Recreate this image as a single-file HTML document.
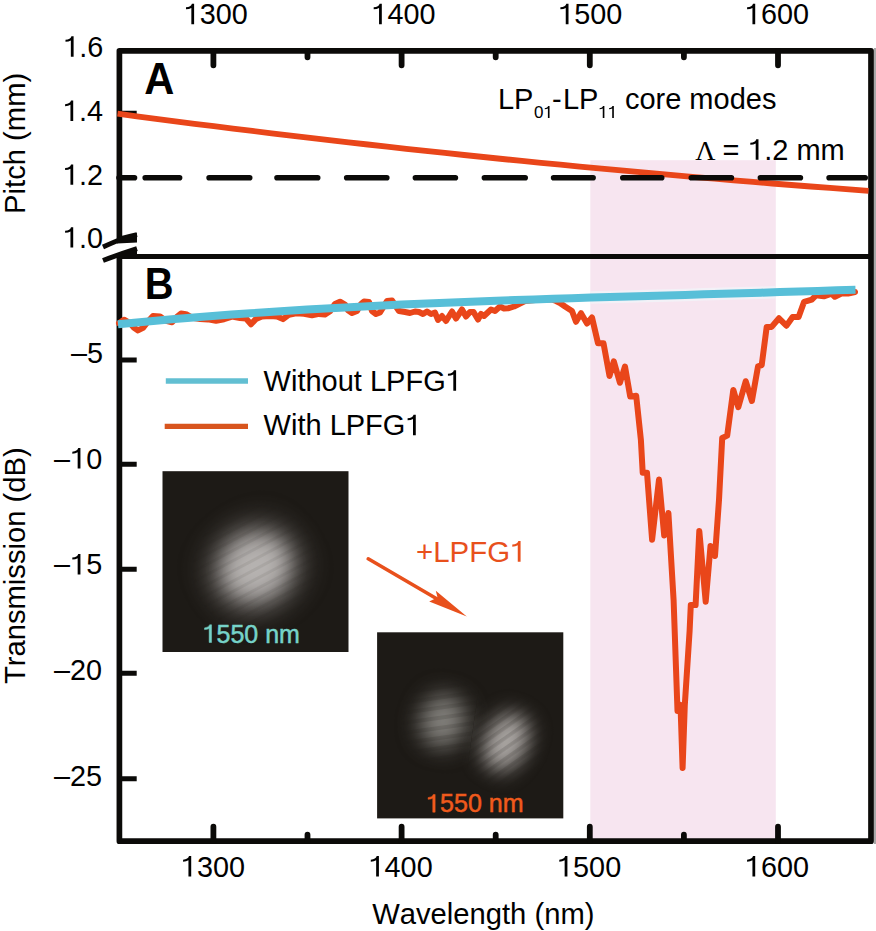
<!DOCTYPE html>
<html><head><meta charset="utf-8"><style>
html,body{margin:0;padding:0;background:#fff;width:876px;height:931px;overflow:hidden}
svg{display:block}
text{font-family:"Liberation Sans",sans-serif;fill:#000;font-kerning:none}
</style></head><body>
<svg width="876" height="931" viewBox="0 0 876 931">
<defs>
<filter id="bl2" x="-1" y="-1" width="3" height="3"><feGaussianBlur stdDeviation="2"/></filter>
<filter id="bl3" x="-1" y="-1" width="3" height="3"><feGaussianBlur stdDeviation="3"/></filter>
<filter id="bl4" x="-1" y="-1" width="3" height="3"><feGaussianBlur stdDeviation="4"/></filter>
<filter id="bl5" x="-1" y="-1" width="3" height="3"><feGaussianBlur stdDeviation="5"/></filter>
<filter id="bl6" x="-1" y="-1" width="3" height="3"><feGaussianBlur stdDeviation="6"/></filter>
<filter id="bl7" x="-1" y="-1" width="3" height="3"><feGaussianBlur stdDeviation="7"/></filter>
<filter id="bl8" x="-1" y="-1" width="3" height="3"><feGaussianBlur stdDeviation="8"/></filter>
<filter id="bl9" x="-1" y="-1" width="3" height="3"><feGaussianBlur stdDeviation="9"/></filter>
<filter id="bl10" x="-1" y="-1" width="3" height="3"><feGaussianBlur stdDeviation="10"/></filter>
<filter id="bl11" x="-1" y="-1" width="3" height="3"><feGaussianBlur stdDeviation="11"/></filter>
<filter id="bl12" x="-1" y="-1" width="3" height="3"><feGaussianBlur stdDeviation="12"/></filter>
<filter id="bl13" x="-1" y="-1" width="3" height="3"><feGaussianBlur stdDeviation="13"/></filter>
<filter id="bl14" x="-1" y="-1" width="3" height="3"><feGaussianBlur stdDeviation="14"/></filter>
<filter id="bl15" x="-1" y="-1" width="3" height="3"><feGaussianBlur stdDeviation="15"/></filter>
<filter id="bl16" x="-1" y="-1" width="3" height="3"><feGaussianBlur stdDeviation="16"/></filter>
<filter id="bl17" x="-1" y="-1" width="3" height="3"><feGaussianBlur stdDeviation="17"/></filter>
<filter id="bl18" x="-1" y="-1" width="3" height="3"><feGaussianBlur stdDeviation="18"/></filter>
<filter id="bl19" x="-1" y="-1" width="3" height="3"><feGaussianBlur stdDeviation="19"/></filter>
<filter id="bl20" x="-1" y="-1" width="3" height="3"><feGaussianBlur stdDeviation="20"/></filter>
<clipPath id="cp"><rect x="590.3" y="160.2" width="185.5" height="680"/></clipPath>
<clipPath id="c1"><rect x="162.5" y="471.2" width="186" height="180.8"/></clipPath>
<clipPath id="c2"><rect x="377.1" y="632.3" width="186.2" height="186.1"/></clipPath>
<pattern id="st1" width="9" height="9" patternUnits="userSpaceOnUse" patternTransform="rotate(-28)"><rect width="9" height="9" fill="#fff"/><rect width="9" height="3" fill="#ececec"/></pattern>
<pattern id="st2" width="8.5" height="8.5" patternUnits="userSpaceOnUse" patternTransform="rotate(-35)"><rect width="9" height="9" fill="#fff"/><rect width="9" height="3.5" fill="#dadada"/></pattern>
<pattern id="st3" width="10" height="10" patternUnits="userSpaceOnUse" patternTransform="rotate(-8)"><rect width="10" height="10" fill="#fff"/><rect width="10" height="4" fill="#dcdcdc"/></pattern>
<mask id="m1" maskUnits="userSpaceOnUse" x="0" y="0" width="876" height="931"><rect x="162.5" y="471.2" width="186" height="180.8" fill="url(#st1)"/></mask>
<mask id="m2" maskUnits="userSpaceOnUse" x="0" y="0" width="876" height="931"><polygon points="377,632 487,632 460,818 377,818" fill="url(#st3)"/><polygon points="487,632 564,632 564,818 460,818" fill="url(#st2)"/></mask>
</defs>
<!-- pink band -->
<rect x="590.3" y="160.2" width="185.5" height="680" fill="#f7e5f0"/>
<!-- frame -->
<g fill="none" stroke="#0b0a08">
<path d="M119.4,239.5 L119.4,50.85 L871,50.85 L871,841.15 L119.4,841.15 L119.4,254" stroke-width="5.7" stroke-linejoin="round"/>
<path d="M121,256.5 L871,256.5" stroke-width="5"/>
<path d="M213.4,51 L213.4,65.3 M213.4,841 L213.4,826.7 M307.5,51 L307.5,57.3 M307.5,841 L307.5,834.7 M401.6,51 L401.6,65.3 M401.6,841 L401.6,826.7 M495.7,51 L495.7,57.3 M495.7,841 L495.7,834.7 M589.8,51 L589.8,65.3 M589.8,841 L589.8,826.7 M683.9,51 L683.9,57.3 M683.9,841 L683.9,834.7 M778.0,51 L778.0,65.3 M778.0,841 L778.0,826.7 " stroke-width="5.8" stroke-linecap="round"/>
<path d="M119,360.1 L136.7,360.1 M119,464.2 L136.7,464.2 M119,569.2 L136.7,569.2 M119,673.3 L136.7,673.3 M119,778.7 L136.7,778.7 M119,113.3 L136.7,113.3 " stroke-width="5" stroke-linecap="butt"/>
<path d="M119,177.8 L134.5,177.8" stroke-width="5.6" stroke-linecap="round"/>
</g>
<rect x="874" y="48" width="2" height="796" fill="#a8a8a8"/>
<!-- break marks -->
<path d="M103,247 Q112,243 118,240.5 L122,238.5 Q130,236 137,234.6" fill="none" stroke="#0b0a08" stroke-width="5" stroke-linecap="butt"/>
<path d="M117,240 L137,233 L137,242.6 L117,243.6 Z" fill="#0b0a08"/>
<path d="M103,260.5 Q120,254 137,248.6" fill="none" stroke="#0b0a08" stroke-width="5" stroke-linecap="butt"/>
<path d="M121,254 L137,248.5 L137,259 L121,259 Z" fill="#0b0a08"/>
<!-- panel A orange -->
<path d="M117.5,113.7 L136.8,116.3 L156.0,118.8 L175.3,121.3 L194.5,123.8 L213.8,126.2 L233.0,128.6 L252.3,130.9 L271.6,133.3 L290.8,135.6 L310.1,137.9 L329.3,140.1 L348.6,142.3 L367.8,144.5 L387.1,146.7 L406.3,148.8 L425.6,150.9 L444.9,152.9 L464.1,155.0 L483.4,157.0 L502.6,159.0 L521.9,160.9 L541.1,162.8 L560.4,164.7 L579.7,166.6 L598.9,168.4 L618.2,170.2 L637.4,171.9 L656.7,173.7 L675.9,175.4 L695.2,177.1 L714.4,178.7 L733.7,180.3 L753.0,181.9 L772.2,183.5 L791.5,185.0 L810.7,186.5 L830.0,187.9 L849.2,189.4 L868.5,190.8" fill="none" stroke="#e9461a" stroke-width="5.8" stroke-linecap="butt"/>
<!-- dashed -->
<path d="M145.2,177.8 L179.6,177.8 M209.1,177.8 L249.7,177.8 M277.0,177.8 L317.7,177.8 M346.7,177.8 L386.8,177.8 M415.4,177.8 L455.4,177.8 M484.4,177.8 L525.2,177.8 M553.6,177.8 L593.1,177.8 M622.8,177.8 L661.7,177.8 M691.3,177.8 L731.4,177.8 M760.4,177.8 L800.4,177.8 M829.1,177.8 L865.2,177.8" fill="none" stroke="#0b0a08" stroke-width="5.6" stroke-linecap="round"/>
<!-- panel B orange -->
<path d="M119.0,323.2 L124.0,319.7 L130.0,323.1 L134.0,327.8 L138.0,330.4 L143.0,327.9 L148.0,321.5 L153.0,316.0 L160.0,316.4 L166.0,320.9 L172.0,322.3 L177.0,316.9 L181.0,313.6 L186.0,314.2 L192.0,317.7 L200.0,319.0 L208.0,319.4 L216.0,320.8 L224.0,319.2 L232.0,316.6 L240.0,318.0 L246.0,318.6 L251.0,324.2 L256.0,318.9 L262.0,316.5 L270.0,315.9 L277.0,316.5 L283.0,319.1 L289.0,314.7 L296.0,313.3 L304.0,313.8 L312.0,315.3 L319.0,313.9 L325.0,314.6 L330.0,311.3 L335.0,304.0 L340.0,301.7 L345.0,304.5 L348.0,310.3 L352.0,313.1 L357.0,311.0 L361.0,304.0 L364.0,301.5 L369.0,302.0 L372.0,311.0 L376.0,314.0 L380.0,312.5 L384.0,306.0 L387.0,301.0 L392.0,300.5 L395.0,305.0 L399.0,311.0 L405.0,312.0 L410.0,313.0 L415.0,311.5 L419.0,312.0 L423.0,314.0 L427.0,311.5 L431.0,314.0 L435.0,312.5 L438.0,320.0 L442.0,316.0 L446.0,321.0 L452.0,311.5 L456.0,318.5 L462.0,309.5 L466.0,316.5 L470.0,312.0 L473.5,312.0 L478.0,319.5 L481.0,314.0 L484.0,316.0 L491.0,309.5 L495.0,311.0 L500.0,306.5 L504.0,308.5 L508.0,308.3 L514.0,306.5 L519.0,304.0 L525.0,301.0 L535.0,300.0 L545.0,299.5 L552.0,299.5 L556.0,301.0 L560.0,303.0 L565.0,306.5 L572.0,311.0 L576.0,321.8 L581.0,313.2 L587.0,323.5 L592.0,317.5 L598.0,343.3 L603.5,343.3 L609.5,376.0 L613.8,361.3 L619.9,382.8 L625.0,366.5 L630.2,396.6 L636.2,395.7 L640.9,440.0 L642.7,472.7 L647.0,472.7 L652.1,539.7 L659.0,479.5 L664.2,535.4 L668.4,513.0 L673.6,600.0 L677.5,711.0 L680.5,705.0 L682.6,768.0 L684.8,705.0 L689.6,631.0 L690.8,605.0 L695.6,605.0 L699.3,531.0 L705.7,601.7 L710.5,546.0 L715.0,556.0 L719.0,500.0 L722.2,438.0 L727.2,435.6 L733.3,389.9 L738.3,407.2 L745.7,381.2 L751.9,401.0 L758.0,366.4 L761.7,365.2 L766.7,326.9 L771.6,326.9 L779.0,318.3 L786.4,325.7 L792.6,317.0 L798.6,317.1 L804.1,301.8 L811.8,299.6 L816.2,295.2 L823.8,296.3 L831.5,293.6 L834.8,296.8 L841.4,293.6 L848.0,293.6 L855.0,292.0" fill="none" stroke="#e9461a" stroke-width="6" stroke-linejoin="round" stroke-linecap="round"/>
<path d="M118.0,324.3 L136.9,322.5 L155.8,320.8 L174.7,319.1 L193.6,317.5 L212.6,316.0 L231.5,314.6 L250.4,313.3 L269.3,312.0 L288.2,310.8 L307.1,309.6 L326.0,308.5 L344.9,307.5 L363.8,306.5 L382.7,305.5 L401.7,304.6 L420.6,303.8 L439.5,303.0 L458.4,302.2 L477.3,301.5 L496.2,300.8 L515.1,300.1 L534.0,299.4 L552.9,298.8 L571.8,298.2 L590.8,297.6 L609.7,297.1 L628.6,296.5 L647.5,295.9 L666.4,295.4 L685.3,294.9 L704.2,294.3 L723.1,293.8 L742.0,293.2 L760.9,292.7 L779.9,292.1 L798.8,291.5 L817.7,290.9 L836.6,290.3 L855.5,289.7" fill="none" stroke="#f3f1f7" stroke-width="12.5" clip-path="url(#cp)"/>
<path d="M118.0,324.3 L136.9,322.5 L155.8,320.8 L174.7,319.1 L193.6,317.5 L212.6,316.0 L231.5,314.6 L250.4,313.3 L269.3,312.0 L288.2,310.8 L307.1,309.6 L326.0,308.5 L344.9,307.5 L363.8,306.5 L382.7,305.5 L401.7,304.6 L420.6,303.8 L439.5,303.0 L458.4,302.2 L477.3,301.5 L496.2,300.8 L515.1,300.1 L534.0,299.4 L552.9,298.8 L571.8,298.2 L590.8,297.6 L609.7,297.1 L628.6,296.5 L647.5,295.9 L666.4,295.4 L685.3,294.9 L704.2,294.3 L723.1,293.8 L742.0,293.2 L760.9,292.7 L779.9,292.1 L798.8,291.5 L817.7,290.9 L836.6,290.3 L855.5,289.7" fill="none" stroke="#58bfd8" stroke-width="8" stroke-linecap="butt"/>
<!-- legend -->
<line x1="165.8" y1="381" x2="248" y2="381" stroke="#62bfd2" stroke-width="5.7"/>
<line x1="164.7" y1="426.4" x2="248" y2="426.4" stroke="#d8551e" stroke-width="5.2"/>
<text x="263.60" y="390.8" font-size="29.0" style="fill:#000">Without LPFG</text><path d="M453.31,390.80 L456.10,390.80 L456.10,370.24 L453.89,370.24 Q453.02,373.40 447.92,373.84 L447.92,375.87 Q451.22,375.87 453.31,374.56 Z" fill="#000"/>
<text x="263.60" y="435.3" font-size="29.0" style="fill:#000">With LPFG</text><path d="M413.00,435.30 L415.78,435.30 L415.78,414.74 L413.58,414.74 Q412.71,417.90 407.60,418.34 L407.60,420.37 Q410.91,420.37 413.00,419.06 Z" fill="#000"/>
<!-- images -->
<rect x="162.5" y="471.2" width="186" height="180.8" fill="#1d1a16"/>
<g clip-path="url(#c1)" mask="url(#m1)">
<ellipse cx="255.4" cy="567.6" rx="42" ry="38" fill="#9c9896" filter="url(#bl15)" transform="rotate(-35 255.4 567.6)"/>
<ellipse cx="256" cy="567" rx="28" ry="25" fill="#b6b2b0" filter="url(#bl10)" transform="rotate(-30 256 567)"/>
</g>
<text x="216.50" y="642.5" font-size="25" style="fill:#76d3c9;stroke:#76d3c9;stroke-width:0.5">550 nm</text><path d="M209.15,642.50 L211.55,642.50 L211.55,624.77 L209.65,624.77 Q208.90,627.50 204.50,627.88 L204.50,629.62 Q207.35,629.62 209.15,628.50 Z" fill="#76d3c9" stroke="#76d3c9" stroke-width="0.5"/>
<rect x="377.1" y="632.3" width="186.2" height="186.1" fill="#1d1a16"/>
<g clip-path="url(#c2)" mask="url(#m2)">
<ellipse cx="443" cy="721" rx="23" ry="27" fill="#82807c" filter="url(#bl11)" transform="rotate(11 443 721)"/>
<ellipse cx="506" cy="742" rx="21" ry="30" fill="#aaa6a3" filter="url(#bl10)" transform="rotate(25 506 742)"/>
</g>
<text x="440.10" y="812.2" font-size="25" style="fill:#f05a1c;stroke:#f05a1c;stroke-width:0.5">550 nm</text><path d="M432.75,812.20 L435.15,812.20 L435.15,794.48 L433.25,794.48 Q432.50,797.20 428.10,797.58 L428.10,799.33 Q430.95,799.33 432.75,798.20 Z" fill="#f05a1c" stroke="#f05a1c" stroke-width="0.5"/>
<!-- arrow -->
<line x1="368.2" y1="558.8" x2="450" y2="606.5" stroke="#e8501c" stroke-width="3.6" stroke-linecap="round"/>
<path d="M466.8,616.6 L435.8,590.8 L437.5,597.5 L429.2,601.6 Z" fill="#e8501c"/>
<text x="416.10" y="561.8" font-size="29.4" style="fill:#e8501c">+LPFG</text><path d="M517.76,561.80 L520.58,561.80 L520.58,540.96 L518.35,540.96 Q517.47,544.16 512.29,544.60 L512.29,546.66 Q515.64,546.66 517.76,545.34 Z" fill="#e8501c"/>
<!-- tick labels -->
<g font-size="28.8">
<text x="199.82" y="24.2" font-size="28.8" style="fill:#000">300</text><path d="M191.35,24.20 L194.11,24.20 L194.11,3.78 L191.92,3.78 Q191.06,6.92 185.99,7.35 L185.99,9.37 Q189.27,9.37 191.35,8.07 Z" fill="#000"/><text x="387.52" y="24.2" font-size="28.8" style="fill:#000">400</text><path d="M379.05,24.20 L381.81,24.20 L381.81,3.78 L379.62,3.78 Q378.76,6.92 373.69,7.35 L373.69,9.37 Q376.97,9.37 379.05,8.07 Z" fill="#000"/><text x="574.22" y="24.2" font-size="28.8" style="fill:#000">500</text><path d="M565.75,24.20 L568.51,24.20 L568.51,3.78 L566.32,3.78 Q565.46,6.92 560.39,7.35 L560.39,9.37 Q563.67,9.37 565.75,8.07 Z" fill="#000"/><text x="760.92" y="24.2" font-size="28.8" style="fill:#000">600</text><path d="M752.45,24.20 L755.21,24.20 L755.21,3.78 L753.02,3.78 Q752.16,6.92 747.09,7.35 L747.09,9.37 Q750.37,9.37 752.45,8.07 Z" fill="#000"/>
<text x="196.92" y="876.5" font-size="28.8" style="fill:#000">300</text><path d="M188.45,876.50 L191.21,876.50 L191.21,856.08 L189.02,856.08 Q188.16,859.22 183.09,859.65 L183.09,861.67 Q186.37,861.67 188.45,860.37 Z" fill="#000"/><text x="384.62" y="876.5" font-size="28.8" style="fill:#000">400</text><path d="M376.15,876.50 L378.91,876.50 L378.91,856.08 L376.72,856.08 Q375.86,859.22 370.79,859.65 L370.79,861.67 Q374.07,861.67 376.15,860.37 Z" fill="#000"/><text x="573.12" y="876.5" font-size="28.8" style="fill:#000">500</text><path d="M564.65,876.50 L567.41,876.50 L567.41,856.08 L565.22,856.08 Q564.36,859.22 559.29,859.65 L559.29,861.67 Q562.57,861.67 564.65,860.37 Z" fill="#000"/><text x="760.92" y="876.5" font-size="28.8" style="fill:#000">600</text><path d="M752.45,876.50 L755.21,876.50 L755.21,856.08 L753.02,856.08 Q752.16,859.22 747.09,859.65 L747.09,861.67 Q750.37,861.67 752.45,860.37 Z" fill="#000"/>
<text x="79.32" y="56.7" font-size="28.8" style="fill:#000">.6</text><path d="M70.85,56.70 L73.61,56.70 L73.61,36.28 L71.42,36.28 Q70.56,39.42 65.49,39.85 L65.49,41.87 Q68.77,41.87 70.85,40.57 Z" fill="#000"/><text x="78.92" y="121" font-size="28.8" style="fill:#000">.4</text><path d="M70.45,121.00 L73.21,121.00 L73.21,100.58 L71.02,100.58 Q70.16,103.72 65.09,104.15 L65.09,106.17 Q68.37,106.17 70.45,104.87 Z" fill="#000"/><text x="78.92" y="184.8" font-size="28.8" style="fill:#000">.2</text><path d="M70.45,184.80 L73.21,184.80 L73.21,164.38 L71.02,164.38 Q70.16,167.52 65.09,167.95 L65.09,169.97 Q68.37,169.97 70.45,168.67 Z" fill="#000"/><text x="78.92" y="247.6" font-size="28.8" style="fill:#000">.0</text><path d="M70.45,247.60 L73.21,247.60 L73.21,227.18 L71.02,227.18 Q70.16,230.32 65.09,230.75 L65.09,232.77 Q68.37,232.77 70.45,231.47 Z" fill="#000"/>
<text x="71.00" y="362.6" font-size="28.8" style="fill:#000">–5</text><text x="54.10" y="468.5" font-size="28.8" style="fill:#000">–</text><text x="86.13" y="468.5" font-size="28.8" style="fill:#000">0</text><path d="M77.66,468.50 L80.43,468.50 L80.43,448.08 L78.24,448.08 Q77.37,451.22 72.31,451.65 L72.31,453.67 Q75.59,453.67 77.66,452.37 Z" fill="#000"/><text x="54.10" y="574.4" font-size="28.8" style="fill:#000">–</text><text x="86.13" y="574.4" font-size="28.8" style="fill:#000">5</text><path d="M77.66,574.40 L80.43,574.40 L80.43,553.98 L78.24,553.98 Q77.37,557.12 72.31,557.55 L72.31,559.57 Q75.59,559.57 77.66,558.27 Z" fill="#000"/><text x="54.10" y="680.3" font-size="28.8" style="fill:#000">–20</text><text x="54.10" y="786.2" font-size="28.8" style="fill:#000">–25</text>
</g>
<!-- panel labels -->
<text x="0" y="0" font-size="44.8" font-weight="bold" transform="translate(144.3,93.7) scale(0.93,1)">A</text>
<text x="0" y="0" font-size="44.8" font-weight="bold" transform="translate(144.8,298.8) scale(0.89,1)">B</text>
<!-- annotations -->
<g font-size="29">
<text x="497.9" y="108.8">LP</text>
<text x="534.00" y="118.1" font-size="17" style="fill:#000">0</text><path d="M547.91,118.10 L549.54,118.10 L549.54,106.05 L548.25,106.05 Q547.74,107.90 544.75,108.16 L544.75,109.34 Q546.68,109.34 547.91,108.58 Z" fill="#000"/>
<text x="552.1" y="108.8">-</text>
<text x="562.9" y="108.8">LP</text>
<path d="M602.75,118.10 L604.39,118.10 L604.39,106.05 L603.09,106.05 Q602.58,107.90 599.59,108.16 L599.59,109.34 Q601.53,109.34 602.75,108.58 Z M612.21,118.10 L613.84,118.10 L613.84,106.05 L612.55,106.05 Q612.04,107.90 609.05,108.16 L609.05,109.34 Q610.98,109.34 612.21,108.58 Z" fill="#000"/>
<text x="624.9" y="108.8">core modes</text>
<text x="722.4" y="159.7">=</text>
<text x="764.23" y="159.7" font-size="29" style="fill:#000">.2 mm</text><path d="M755.70,159.70 L758.48,159.70 L758.48,139.14 L756.28,139.14 Q755.41,142.30 750.30,142.73 L750.30,144.76 Q753.61,144.76 755.70,143.46 Z" fill="#000"/>
</g>
<text x="695.2" y="159.7" font-size="28" style="font-family:'Liberation Serif',serif">&#923;</text>
<!-- axis titles -->
<text x="372.2" y="923.8" font-size="29.2">Wavelength (nm)</text>
<text x="0" y="0" font-size="29.2" transform="translate(24.6,213.9) rotate(-90)">Pitch (mm)</text>
<text x="0" y="0" font-size="29.2" transform="translate(24.9,684.1) rotate(-90)">Transmission (dB)</text>
</svg>
</body></html>
